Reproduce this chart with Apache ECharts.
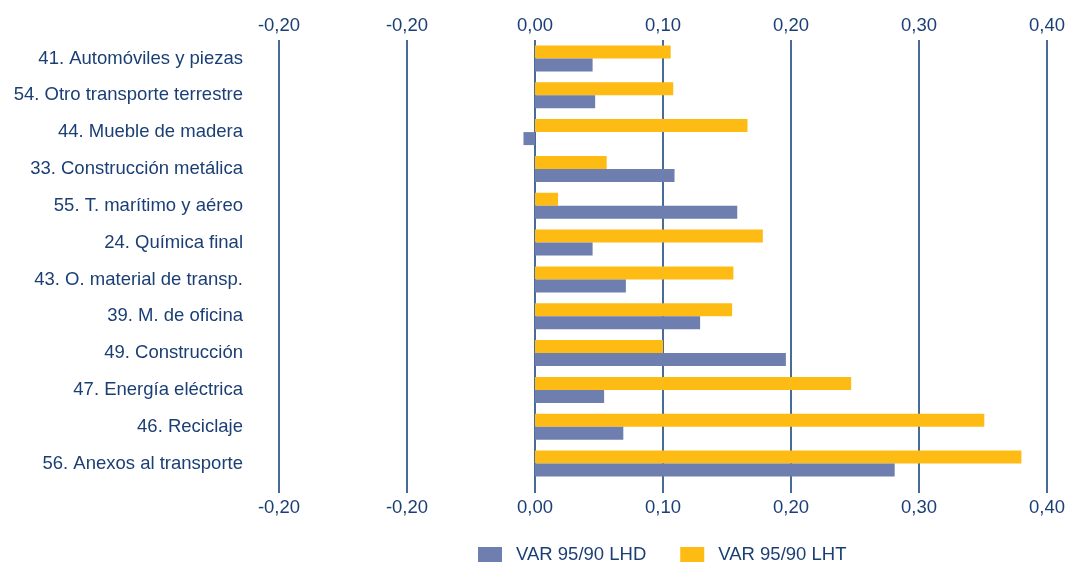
<!DOCTYPE html>
<html><head><meta charset="utf-8">
<script src="https://cdn.jsdelivr.net/npm/echarts@6/dist/echarts.min.js"></script>
<style>html,body{margin:0;padding:0;background:#fff}#c{width:1069px;height:562px}</style>
</head><body><div id="c"></div>
<script>
const categories = ["41. Automóviles y piezas","54. Otro transporte terrestre","44. Mueble de madera","33. Construcción metálica","55. T. marítimo y aéreo","24. Química final","43. O. material de transp.","39. M. de oficina","49. Construcción","47. Energía eléctrica","46. Reciclaje","56. Anexos al transporte"];
const lhd = [0.045,0.047,-0.009,0.109,0.158,0.045,0.071,0.129,0.196,0.054,0.069,0.281];
const lht = [0.106,0.108,0.166,0.056,0.018,0.178,0.155,0.154,0.100,0.247,0.351,0.380];
const tickLabels = {"-0.2":"-0,20","-0.1":"-0,20","0":"0,00","0.1":"0,10","0.2":"0,20","0.3":"0,30","0.4":"0,40"};
const navy = "#0D3A78", txt = "#1B3F75";
const fs = 18.5, ff = "Liberation Sans";
const fmt = v => tickLabels[String(Math.round(v*10)/10)] || "";
const xBase = {type:"value",min:-0.2,max:0.4,interval:0.1,
  axisLine:{show:false},
  axisLabel:{formatter:fmt,color:txt,fontSize:fs,fontFamily:ff}};
const chart = echarts.init(document.getElementById("c"));
chart.setOption({
  animation:false,
  grid:{left:279,right:22,top:40,height:442,containLabel:false},
  legend:{top:545,left:478,padding:0,itemWidth:24,itemHeight:15,itemGap:34,icon:"rect",
    textStyle:{color:txt,fontSize:fs,fontFamily:ff,padding:[0,0,0,9]},
    data:["VAR 95/90 LHD","VAR 95/90 LHT"]},
  xAxis:[
    Object.assign({},xBase,{position:"bottom",
      axisTick:{show:true,length:11,lineStyle:{color:navy,width:1.5}},
      axisLabel:Object.assign({},xBase.axisLabel,{margin:16}),
      splitLine:{show:true,lineStyle:{color:navy,width:1.5}}}),
    Object.assign({},xBase,{position:"top",axisTick:{show:false},
      axisLabel:Object.assign({},xBase.axisLabel,{margin:5}),
      splitLine:{show:false}})
  ],
  yAxis:{type:"category",data:categories,inverse:true,
    axisLine:{show:false},axisTick:{show:false},
    axisLabel:{color:txt,fontSize:fs,fontFamily:ff,margin:36}},
  series:[
    {name:"VAR 95/90 LHT",type:"bar",data:lht,barWidth:13,barGap:"0%",itemStyle:{color:"#FDBB13"}},
    {name:"VAR 95/90 LHD",type:"bar",data:lhd,barWidth:13,barGap:"0%",itemStyle:{color:"#6E7FAF"}}
  ]
});
</script></body></html>
